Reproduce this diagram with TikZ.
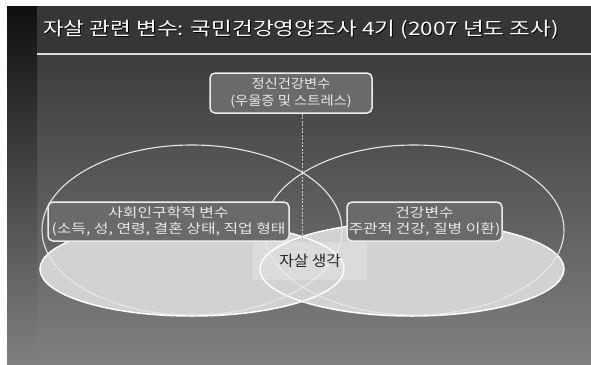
\documentclass[tikz,border=0pt]{standalone}
\usepackage{fontspec}
\newfontfamily\kr{Noto Sans CJK KR}
\usetikzlibrary{calc}
\definecolor{bodytop}{HTML}{3C3C3C}
\definecolor{bodybot}{HTML}{808080}
\definecolor{titlebg}{HTML}{363636}
\definecolor{stripTop}{HTML}{0F0F0F}
\definecolor{boxfill}{HTML}{6A6A6A}
\definecolor{boxline}{HTML}{EDEDED}
\definecolor{boxtxt}{HTML}{E8E8E8}
\definecolor{ellfill}{HTML}{D2D2D2}
\definecolor{ellline}{HTML}{E6E6E6}
\newcommand\zw[2][1.1]{\makebox[0pt]{\scalebox{#1}[1]{#2}}}
\tikzset{
  varbox/.style={draw=boxline, line width=1.5pt, fill=boxfill, rounded corners=5pt,
    inner sep=0pt, align=center, text=boxtxt, font=\kr\fontsize{13}{16.5}\selectfont},
  outlineell/.style={draw=ellline, line width=1.1pt},
  fillell/.style={fill=ellfill},
  fillline/.style={draw=white, line width=1.5pt},
  centerbox/.style={fill=white, fill opacity=0.22, text opacity=1, inner sep=0pt,
    text=black!85, font=\kr\fontsize{15}{18}\selectfont},
  linkline/.style={draw=black!20, line width=1pt, dash pattern=on 2pt off 1.5pt},
  titletext/.style={anchor=west, inner sep=0pt, font=\kr\fontsize{18.5}{22}\selectfont}
}
\begin{document}
\begin{tikzpicture}[x=1pt,y=-1pt]
\useasboundingbox (0,0) rectangle (591,364);
\fill[white] (0,0) rectangle (591,364);
% background
\shade[top color=bodytop, bottom color=bodybot] (37,54) rectangle (591,364);
\shade[top color=stripTop, bottom color=bodybot] (7,6) rectangle (37,364);
\fill[titlebg] (37,6) rectangle (591,54);
\draw[color=black!15, line width=1.5pt] (37,54) -- (591,54);
% title
\node[titletext, text=black] (titleS) at (43.8,30.8)
  {\scalebox{1.22}[1]{자살 관련 변수: 국민건강영양조사 4기 (2007 년도 조사)}};
\node[titletext, text=white] (title) at (43,30)
  {\scalebox{1.22}[1]{자살 관련 변수: 국민건강영양조사 4기 (2007 년도 조사)}};
% filled ellipses
\fill[fillell] (192,269) ellipse [x radius=152pt, y radius=47pt];
\fill[fillell] (412,269) ellipse [x radius=152pt, y radius=47pt];
\draw[fillline] (192,269) ellipse [x radius=152pt, y radius=47pt];
\draw[fillline] (412,269) ellipse [x radius=152pt, y radius=47pt];
% outline ellipses
\draw[outlineell] (192,230) ellipse [x radius=150pt, y radius=85pt];
\draw[outlineell] (414,230) ellipse [x radius=150pt, y radius=85pt];
% nodes
\node[varbox, minimum width=162pt, minimum height=40pt] (mental) at (291,93)
  {\zw{정신건강변수}\\\zw{(우울증 및 스트레스)}};
\node[varbox, minimum width=241pt, minimum height=39pt] (social) at (168.5,221.5)
  {\zw[1.22]{사회인구학적 변수}\\\zw[1.22]{(소득, 성, 연령, 결혼 상태, 직업 형태}};
\node[varbox, minimum width=155pt, minimum height=39pt] (health) at (424.5,221.5)
  {\zw[1.22]{건강변수}\\\zw[1.22]{주관적 건강, 질병 이환)}};
\node[centerbox, minimum width=114pt, minimum height=38pt] (suicide) at (310,261)
  {\scalebox{1.05}[1]{자살 생각}};
\draw[linkline] (mental.south -| 302,0) -- (suicide.north -| 302,0);
\end{tikzpicture}
\end{document}
